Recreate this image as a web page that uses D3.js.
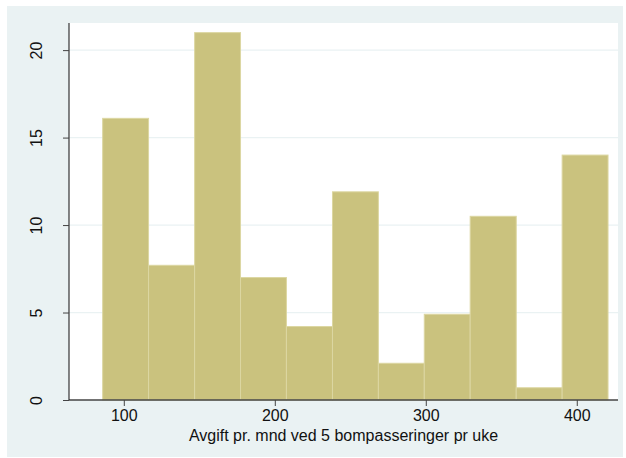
<!DOCTYPE html>
<html><head><meta charset="utf-8">
<script src="https://cdn.jsdelivr.net/npm/d3@7"></script>
<style>
html,body{margin:0;padding:0;background:#fff;}
svg{display:block;font-family:"Liberation Sans",Arial,sans-serif;}
</style></head>
<body><svg id="c" width="626" height="458"></svg>
<script>
const binEdges = [86.0, 116.4, 146.9, 177.3, 207.7, 238.2, 268.6, 299.0, 329.4, 359.9, 390.3, 420.7];
const percents = [16.1, 7.7, 21.0, 7.0, 4.2, 11.9, 2.1, 4.9, 10.5, 0.7, 14.0];
const xTicks = [100, 200, 300, 400];
const yTicks = [0, 5, 10, 15, 20];
const xTitle = "Avgift pr. mnd ved 5 bompasseringer pr uke";

const svg = d3.select("#c");
svg.append("rect").attr("x",7).attr("y",6).attr("width",616).attr("height",451).attr("fill","#eaf2f3");

const L=69, R=618, T=23, B=400;
svg.append("rect").attr("x",L).attr("y",T).attr("width",R-L).attr("height",B-T).attr("fill","#fff");

const x = d3.scaleLinear().domain([63.7, 427.3]).range([L, R]);
const y = d3.scaleLinear().domain([0, 21.55]).range([B, T]);

// gridlines
svg.append("g").selectAll("line").data(yTicks.filter(d=>d>0)).join("line")
  .attr("x1",L).attr("x2",R).attr("y1",d=>y(d)).attr("y2",d=>y(d))
  .attr("stroke","#eaf2f3").attr("stroke-width",1.2);

// bars
const bins = percents.map((v,i)=>({x0:binEdges[i], x1:binEdges[i+1], v}));
svg.append("g").selectAll("rect").data(bins).join("rect")
  .attr("x",d=>x(d.x0)).attr("width",d=>x(d.x1)-x(d.x0))
  .attr("y",d=>y(d.v)).attr("height",d=>y(0)-y(d.v))
  .attr("fill","#cac27e").attr("stroke","#dcd7a2").attr("stroke-width",1);

// axes
const xAxis = d3.axisBottom(x).tickValues(xTicks).tickSize(6).tickPadding(4).tickFormat(d3.format("d"));
const gx = svg.append("g").attr("transform",`translate(0,${B})`).call(xAxis);
gx.select(".domain").attr("d",`M${L},0H${R}`).attr("stroke","#444").attr("stroke-width",1.3);
gx.selectAll(".tick line").attr("stroke","#444");
gx.selectAll("text").attr("font-size",16).attr("fill","#111").attr("font-family","Liberation Sans, Arial, sans-serif");

const yAxis = d3.axisLeft(y).tickValues(yTicks).tickSize(6).tickPadding(0).tickFormat(d3.format("d"));
const gy = svg.append("g").attr("transform",`translate(${L},0)`).call(yAxis);
gy.select(".domain").attr("d",`M0,${B}V${T}`).attr("stroke","#222").attr("stroke-width",1.1);
gy.selectAll(".tick line").attr("stroke","#444");
gy.selectAll("text")
  .attr("font-size",16).attr("fill","#111").attr("font-family","Liberation Sans, Arial, sans-serif")
  .attr("x",0).attr("dy",0)
  .attr("text-anchor","middle")
  .attr("transform","translate(-33,0) rotate(-90)")
  .attr("dominant-baseline","central");

svg.append("text").attr("x",(L+R)/2).attr("y",441).attr("text-anchor","middle")
  .attr("font-size",16).attr("fill","#111").text(xTitle);
</script></body></html>
